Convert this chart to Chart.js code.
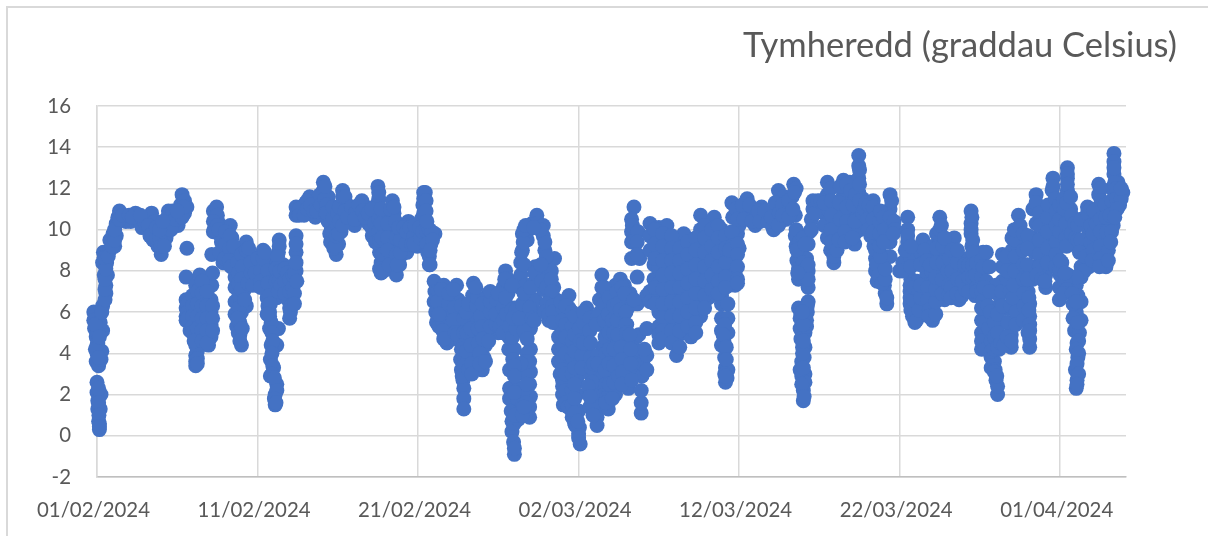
<!DOCTYPE html>
<html>
<head>
<meta charset="utf-8">
<title>Tymheredd</title>
<script src="https://cdn.jsdelivr.net/npm/chart.js@4"></script>
<style>
  html, body { margin: 0; padding: 0; background: #fff; overflow: hidden; }
  #frame { position: absolute; left: 6px; top: 6px; width: 1300px; height: 600px; border: 2px solid #d9d9d9; }
  canvas { position: absolute; left: 0; top: 0; }
</style>
</head>
<body>
<div id="frame"></div>
<canvas id="tempChart" width="1208" height="536"></canvas>
<script>
const titleText = 'Tymheredd (graddau Celsius)';
const dateTicks = [0, 10, 20, 30, 40, 50, 60];
const dateLabels = ['01/02/2024', '11/02/2024', '21/02/2024', '02/03/2024', '12/03/2024', '22/03/2024', '01/04/2024'];

// [days since 01/02/2024, temperature]
const days00to05 = [
    [-0.2,6.0],[-0.2,5.6],[-0.15,5.2],[-0.05,4.8],[0,4.4],[0,4.0],[-0.05,3.6],[0.1,3.4],[0.25,3.7],[0.3,4.1],[0.35,5.1],[0.2,5.5],[0.05,5.0],[0.05,4.5],
    [0,2.6],[0,2.1],[0.05,1.7],[0.25,2.0],[0.05,1.3],[0.2,1.3],[0.1,0.7],[0.15,0.3],[0.15,0.6],
    [0.35,6.3],[0.55,6.9],[0.55,7.3],[0.45,7.8],[0.35,8.4],[0.4,8.9],[0.6,8.4],[0.65,7.8],[0.8,9.0],[1.1,9.2],[0.8,9.5],[1.0,9.8],[1.2,9.7],[1.2,10.3],[1.4,10.9],
    [1.5,10.5],[1.8,10.4],[2.1,10.4],[2.4,10.8],[2.6,10.5],[2.8,10.1],[3.0,10.3],[3.2,10.5],[3.4,10.8],[3.6,10.4],[3.5,10.0],[3.5,9.5],[3.8,9.2],[4.0,8.8],[4.1,9.4],
    [4.3,9.6],[4.2,10.0],[4.4,10.6],[4.45,10.9],[4.7,10.9],[4.7,10.4],[5.05,10.2],[5.1,10.7],[5.2,11.2],[5.3,11.7],[5.45,11.4],[5.6,11.1],[5.45,10.8],[5.6,9.1],[5.55,7.7],
    [-0.1,5.4],[-0.1,4.2],[0.1,3.8],[0.15,4.8],[0.1,2.3],[0.1,1.6],[0.12,1.0],[0.15,0.45],[0.3,6.0],[0.5,6.6],[0.5,7.1],[0.5,7.6],[0.55,8.1],[0.45,8.65],[0.7,8.7],[0.95,9.2],[1.1,9.5],[1.1,10.0],[1.3,10.6],[1.4,10.5],[1.6,10.7],
    [2.0,10.7],[2.2,10.6],[2.7,10.7],[3.2,10.2],[3.3,9.7],[3.7,9.6],[3.7,10.1],[3.9,9.6],[4.0,9.2],[4.2,9.2],[4.4,10.2],[4.6,10.0],[4.9,10.5],[5.3,10.6],[5.4,11.1],[5.0,10.9],[3.9,10.0],[4.1,10.4]
];
const days05to12 = [
    [5.55,6.6],[5.55,6.2],[5.55,5.8],[5.55,5.6],[5.8,6.5],[5.8,6.0],[5.8,5.5],[5.8,5.1],
    [6.15,7.3],[6.15,6.7],[6.15,6.1],[6.15,5.5],[6.15,4.9],[6.15,4.4],[6.15,3.9],[6.15,3.6],[6.15,3.4],
    [6.4,7.8],[6.4,7.2],[6.4,6.6],[6.4,6.0],[6.4,5.4],[6.4,4.8],[6.7,6.8],[6.7,6.2],[6.7,5.6],[6.7,5.0],[6.7,4.6],
    [6.95,7.2],[6.95,6.5],[6.95,5.9],[6.95,5.3],[6.95,4.7],[6.95,4.4],[7.1,6.6],[7.1,6.0],[7.1,5.4],[7.1,4.8],
    [7.15,7.3],[7.2,7.9],[7.15,8.8],[7.25,9.9],[7.25,10.9],[7.45,11.1],[7.6,10.3],[7.5,10.7],
    [7.7,9.7],[7.85,9.1],[7.85,8.4],[8.1,8.9],[8.1,9.5],[8.3,10.2],[8.4,9.6],[8.4,8.9],[8.5,8.3],[8.6,7.7],[8.6,7.2],[8.6,6.5],[8.6,5.9],[8.7,5.3],[8.9,5.5],[9.0,4.4],[8.9,4.9],
    [9.0,6.0],[9.1,6.7],[9.2,7.1],[9.2,7.7],[9.2,8.3],[9.2,8.9],[9.3,9.4],[9.5,8.8],[9.5,8.1],[9.3,6.3],
    [9.75,7.6],[9.95,7.3],[10.0,8.0],[10.2,8.6],[10.35,9.0],[10.5,8.4],[10.5,7.8],[10.5,7.2],[10.65,6.3],[10.6,6.7],[10.75,5.8],[10.75,5.2],[11.3,5.2],[11.2,4.4],[10.85,4.4],
    [10.8,3.7],[10.8,2.9],[11.0,3.3],[11.2,2.5],[11.1,2.0],[11.1,1.5],[10.6,7.5],
    [11.35,9.5],[11.3,8.9],[11.2,8.4],[11.1,7.8],[11.2,7.2],[11.2,6.7],[11.5,7.0],[11.5,7.7],[11.6,8.3],[11.8,7.8],[11.9,7.2],[11.9,6.6],[12.0,6.2],[12.0,5.7],[12.1,6.8],[12.3,7.5],
    [12.4,8.0],[12.4,8.9],[12.4,9.7],[12.4,10.7],[12.4,11.1],
    [5.65,6.4],[5.65,6.0],[5.65,5.7],[5.95,6.8],[5.95,6.3],[5.95,5.8],[5.95,5.3],[5.95,5.0],[6.25,7.0],[6.25,6.4],[6.25,5.8],[6.25,5.2],[6.25,4.6],[6.25,4.1],[6.25,3.75],[6.25,3.5],[6.05,4.6],
    [6.55,7.5],[6.55,6.9],[6.55,6.3],[6.55,5.7],[6.55,5.1],[6.55,4.6],[6.85,7.0],[6.85,6.3],[6.85,5.7],[6.85,5.1],[6.85,4.5],[7.2,6.3],[7.2,5.7],[7.2,5.1],[7.25,10.4],[7.3,10.0],[7.5,10.2],
    [7.6,10.0],[7.75,9.4],[7.65,8.9],[7.95,8.6],[8.0,9.3],[8.0,9.9],[8.3,9.7],[8.25,9.1],[8.25,8.5],[8.5,9.2],[8.35,8.2],[8.75,8.4],[8.8,7.9],[8.8,7.4],[8.85,6.8],[8.85,6.2],[8.75,5.7],[8.8,5.0],[9.05,5.2],[8.9,4.6],
    [9.0,8.8],[9.05,8.2],[9.0,7.6],[9.0,7.1],[9.3,9.0],[9.45,9.1],[9.2,6.6],[9.4,7.4],[9.6,7.9],[9.6,8.4],[9.7,7.3],[9.85,7.9],[10.0,8.6],[10.2,8.0],[10.2,7.5],[10.2,7.2],[10.35,8.6],[10.45,8.9],[10.65,8.0],[10.65,7.4],[10.75,6.8],[10.75,6.0],[10.85,5.5],[10.8,6.4],[10.6,5.9],[10.9,5.0],
    [10.95,4.6],[10.9,4.0],[10.95,3.4],[10.9,3.0],[11.05,2.8],[11.2,2.2],[11.05,1.8],[11.15,1.6],
    [11.35,9.2],[11.25,8.7],[11.15,8.1],[11.15,7.5],[11.3,7.0],[11.35,7.5],[11.4,8.0],[11.45,7.3],[11.7,7.5],[11.7,8.1],[11.7,6.9],[11.85,7.9],[12.0,7.0],[12.0,7.6],[12.1,6.3],[12.05,6.0],[12.2,7.2],[12.2,7.8],[12.3,7.9],[12.3,6.9],[12.4,8.4],[12.4,9.3],[12.45,7.5],[12.3,6.4]
];
const days12to21 = [
    [12.8,10.9],[13.0,11.3],[13.25,11.6],[13.4,11.0],[13.6,10.6],[13.8,11.2],[14.1,12.3],[14.1,11.9],[14.4,11.6],[14.5,11.1],[14.5,10.5],[14.6,10.0],[14.7,9.4],[14.9,8.8],
    [15.05,9.3],[15.2,9.9],[15.3,10.5],[15.3,11.2],[15.3,11.9],[15.6,11.2],[15.8,10.6],[16.05,10.2],[16.3,10.7],[16.5,11.4],[16.75,11.1],[16.9,10.3],
    [17.2,10.6],[17.4,11.2],[17.5,12.1],[17.55,11.5],[17.4,9.9],[17.1,10.1],[17.5,9.4],[17.6,8.9],[17.7,8.4],[17.7,7.9],[17.9,8.4],[17.9,9.2],[17.9,10.0],[17.9,10.7],
    [18.2,10.8],[18.4,11.4],[18.5,10.8],[18.5,10.0],[18.5,9.2],[18.4,8.6],[18.5,8.1],[18.65,7.8],[18.85,8.3],[19.0,8.8],[19.3,8.9],[19.1,9.6],[19.4,10.4],[19.6,9.8],
    [19.95,9.2],[20.0,9.8],[20.2,10.5],[20.35,11.8],[20.3,11.2],[20.4,10.2],[20.45,9.5],[20.6,8.9],[20.7,8.3],[20.8,9.3],[21.05,9.8],
    [12.6,11.0],[12.6,10.7],[12.9,10.7],[13.1,11.4],[13.1,11.0],[13.3,11.2],[13.5,10.9],[13.7,10.9],[13.9,11.7],[13.95,11.2],[14.2,11.5],[14.2,12.1],[14.3,11.2],[14.25,10.8],[14.4,10.4],[14.3,10.8],[14.5,9.8],[14.55,9.4],[14.7,9.9],[14.75,9.1],[14.85,9.2],[14.9,9.7],[14.9,10.3],[14.7,10.6],[14.7,11.1],
    [15.0,10.8],[15.1,10.4],[15.1,11.1],[15.05,9.8],[15.3,11.6],[15.45,11.6],[15.45,10.9],[15.3,10.2],[15.6,10.6],[15.85,11.1],[16.1,10.8],[16.05,10.5],[16.3,11.2],[16.55,10.9],[16.7,10.6],[16.9,10.8],[17.1,11.0],
    [17.3,10.3],[17.15,9.7],[17.35,9.4],[17.55,9.9],[17.55,11.8],[17.55,10.5],[17.7,11.0],[17.7,10.3],[17.6,9.5],[17.6,8.1],[17.85,8.0],[17.8,8.8],[17.75,9.6],[18.1,10.3],[18.1,9.6],[18.1,9.0],[18.2,8.3],[18.3,11.0],[18.5,11.1],[18.6,10.4],[18.65,9.6],[18.65,8.8],[18.7,8.3],
    [18.9,8.9],[18.9,9.5],[18.8,10.1],[19.1,10.1],[19.25,9.3],[19.3,9.9],[19.5,10.1],[19.6,9.3],[19.75,9.7],[19.8,10.2],[19.75,9.3],[20.15,9.6],[20.1,10.1],[20.3,9.9],[20.35,11.5],[20.35,10.8],[20.55,9.9],[20.55,9.3],[20.7,8.7],[20.7,10.0],[20.85,9.9],[20.9,9.5]
];
const days20to26 = [
    [20.45,11.8],[20.5,11.4],[20.5,10.9],[20.55,10.4],[20.75,9.0],[20.75,8.3],[21.0,7.5],[21.05,7.0],[21.0,6.5],[21.1,6.0],[21.15,5.5],[21.3,5.3],[21.5,5.6],[21.5,6.3],[21.6,7.3],
    [21.7,6.7],[21.8,5.8],[21.8,5.1],[21.8,4.5],[22.1,4.7],[22.1,5.4],[22.1,6.1],[22.3,6.7],[22.4,7.3],[22.5,6.6],[22.6,5.9],[22.5,5.2],[22.65,4.6],[22.65,3.7],[22.7,3.2],
    [22.8,2.7],[22.85,2.3],[22.85,1.8],[22.85,1.3],[23.0,3.0],[23.1,3.6],[23.1,4.5],[23.15,5.4],[23.3,6.2],[23.45,7.4],[23.4,6.8],[23.5,5.6],[23.5,4.8],[23.6,3.9],[23.6,3.3],
    [24.0,3.2],[24.1,3.8],[24.2,4.4],[24.25,5.0],[24.2,5.7],[24.4,6.9],[24.3,6.3],[24.7,6.8],[24.7,6.1],[24.7,5.5],[25.0,5.0],[25.0,5.6],[25.0,6.2],[25.2,6.8],[25.3,7.2],[25.45,8.0],
    [25.6,7.6],[25.6,6.9],[25.6,6.2],[25.5,5.4],[25.65,4.2],[25.65,4.8],
    [21.25,7.0],[21.2,6.5],[21.3,5.9],[21.45,7.1],[21.55,5.1],[21.6,4.7],[21.9,6.4],[21.9,6.9],[22.2,7.1],[22.25,6.2],[22.2,5.6],[22.3,5.0],[22.45,4.9],[22.7,6.3],[22.85,5.7],[22.85,5.0],[22.85,4.4],[22.85,3.9],[22.85,3.4],[22.7,4.2],[22.75,2.9],
    [23.0,6.0],[23.05,5.0],[23.0,4.1],[23.15,3.2],[23.15,6.4],[23.3,5.2],[23.3,4.4],[23.35,3.5],[23.35,3.0],[23.65,6.3],[23.7,6.7],[23.6,7.2],[23.75,5.2],[23.75,4.5],[23.85,4.0],[23.85,3.5],[23.9,5.8],
    [24.0,6.4],[24.0,5.3],[24.05,4.7],[24.2,3.6],[24.4,4.6],[24.5,5.3],[24.5,6.0],[24.5,6.5],[24.5,7.0],[24.9,6.6],[24.85,5.4],[24.85,5.9],[25.0,6.9],[25.1,5.3],[25.3,6.2],[25.3,5.6],[25.3,5.0],[25.45,6.7],[25.4,7.6],[25.5,5.9],[25.7,5.3]
];
const days25to34 = [
    [25.7,3.2],[25.7,2.3],[25.7,1.8],[25.8,1.2],[25.85,0.7],[25.85,0.2],[25.95,-0.3],[26.0,-0.9],[26.0,-0.6],[26.0,0.6],[26.2,1.3],[26.2,1.8],[26.3,2.3],[26.2,3.2],[26.3,5.3],[26.2,6.0],
    [26.35,7.2],[26.0,6.2],[26.4,8.4],[26.5,9.0],[26.5,9.8],[26.4,7.8],[26.7,6.0],[26.8,5.4],[27.0,5.2],[27.0,4.2],[27.0,3.1],[26.95,3.6],[26.95,2.5],[27.0,1.9],[26.95,1.4],[26.95,0.9],
    [26.5,1.5],[26.6,2.2],[26.6,3.0],[26.6,5.5],[26.7,7.3],[26.9,6.6],[27.2,6.1],[27.3,6.6],[27.2,7.4],[27.3,8.2],[26.8,9.5],[26.9,10.0],[27.1,10.3],[27.4,10.7],[27.4,10.3],
    [27.8,10.2],[27.8,9.7],[27.9,9.0],[27.9,8.4],[27.95,7.8],[28.1,8.1],[28.5,8.6],[28.3,8.0],[28.45,7.2],[28.2,6.6],[28.1,6.1],[28.15,5.6],[27.8,7.1],
    [28.6,6.6],[28.7,6.0],[28.75,5.4],[28.75,4.8],[28.75,4.2],[28.75,3.6],[28.85,3.0],[29.0,2.4],[29.05,1.5],[29.0,2.0],[29.1,5.6],[29.4,6.8],[29.4,6.2],[29.5,5.6],[29.5,5.0],[29.4,4.2],[29.3,3.4],[29.3,2.6],
    [29.4,1.9],[29.5,1.3],[29.7,0.9],[29.8,0.5],[30.0,0.1],[30.1,-0.4],[30.05,0.4],[30.0,1.2],[29.9,2.0],[29.9,2.8],[29.9,3.6],[29.9,4.4],[29.85,5.2],[30.0,5.8],
    [30.5,6.2],[30.5,5.6],[30.55,5.0],[30.5,4.3],[30.6,3.6],[30.7,3.0],[30.7,2.3],[30.7,1.4],
    [31.45,7.8],[31.45,7.2],[31.4,6.6],[31.35,6.0],[31.4,5.4],[31.5,4.3],[31.4,3.6],[31.2,3.0],[31.1,2.4],[31.1,1.9],[31.15,1.3],[31.15,0.9],[31.15,0.5],[31.6,2.0],[31.85,1.3],
    [31.9,2.0],[31.9,3.0],[32.0,3.8],[32.1,4.5],[31.9,5.5],[32.0,6.2],[32.1,6.9],[32.3,7.3],[32.6,7.6],[32.85,7.3],[32.8,6.4],[32.7,5.6],[32.7,4.8],[32.4,4.2],[32.5,3.3],[32.4,2.6],[32.3,2.0],
    [33.2,6.9],[33.05,6.2],[33.0,5.4],[33.0,4.6],[33.0,3.8],[33.0,3.0],[33.1,2.3],[33.5,3.0],[33.6,3.6],[33.5,4.2],[33.6,4.8],[33.9,1.1],[33.9,1.6],[33.9,2.2],[33.95,2.9],[34.0,3.5],[34.25,3.9],[34.25,3.2],[34.1,4.2],
    [33.65,7.7],[33.65,6.4],[34.25,6.8],[33.75,4.9],[34.25,5.2],
    [33.45,11.1],[33.3,10.5],[33.3,9.9],[33.3,9.4],[33.35,10.2],[33.7,9.9],[33.65,9.4],[33.3,8.6],[33.8,8.6],[33.65,8.8],
    [26.0,4.2],[25.9,3.7],[25.9,4.8],[26.1,5.2],[26.6,5.1],[26.8,4.7],[26.8,4.0],[26.7,3.6],[26.4,3.5],[26.0,3.4],[26.0,2.9],[26.75,2.5],[26.0,2.1],[26.75,1.6],[26.25,0.8],[26.2,1.0],[26.05,1.0],[26.7,1.0],[26.5,1.0],[26.6,1.4],
    [25.85,7.3],[25.85,6.1],[26.1,6.1],[25.9,5.7],[26.3,5.7],[26.5,6.4],[26.6,6.9],[26.95,6.2],[27.1,5.7],[27.25,5.6],[27.0,7.2],[26.45,8.9],[26.55,9.4],[26.6,10.0],[26.7,10.2],[26.6,8.3],[27.25,7.9],
    [27.9,9.4],[28.0,8.7],[27.65,8.3],[27.6,10.0],[27.2,10.1],[27.7,7.5],[28.0,7.2],[28.3,7.6],[28.35,7.0],[28.0,6.4],[27.9,6.0],[28.15,5.9],[28.4,6.3],[28.4,6.0],[28.4,5.5],
    [29.0,6.2],[29.0,5.6],[29.0,5.0],[29.0,4.4],[29.0,3.8],[29.0,3.2],[29.0,2.7],[28.9,6.5],[29.2,6.3],[29.2,5.4],[29.2,4.8],[29.2,4.0],[29.2,3.0],[29.2,2.2],[29.2,1.6],[29.35,1.4],
    [29.6,6.0],[29.6,5.3],[29.6,4.6],[29.6,3.8],[29.6,3.0],[29.6,2.2],[29.6,1.5],[29.6,0.9],[29.75,5.8],[29.75,4.9],[29.75,4.1],[29.75,3.3],[29.75,2.5],[29.75,1.8],[29.75,1.1],[29.75,0.6],[29.95,0.7],[30.0,-0.1],
    [30.05,5.2],[30.1,4.6],[30.2,3.9],[30.2,3.3],[30.3,4.5],[30.3,5.5],[30.3,6.0],[30.7,5.7],[30.7,5.1],[30.75,4.5],[30.75,3.8],[30.8,3.3],[30.85,2.6],[30.85,2.0],[30.85,1.5],[30.6,2.4],[30.7,1.9],[30.9,1.0],
    [31.2,5.8],[31.1,5.4],[31.3,6.6],[31.2,3.9],[30.95,3.5],[31.2,3.5],
    [31.6,7.2],[31.6,6.4],[31.6,5.6],[31.65,4.8],[31.7,4.0],[31.65,3.2],[31.7,2.5],[31.7,1.6],[31.9,6.7],[31.85,5.9],[31.9,5.0],[31.9,4.2],[31.9,3.5],[31.9,2.5],[32.1,5.6],[32.2,6.3],[32.2,5.0],[32.2,4.2],[32.2,3.4],[32.2,2.6],[32.1,1.8],
    [32.4,7.0],[32.45,6.4],[32.4,5.6],[32.45,4.9],[32.5,2.9],[32.7,7.2],[32.85,6.9],[32.6,6.1],[32.65,4.3],[32.7,3.7],[32.75,3.1],[32.7,2.5],[32.95,6.0],[32.95,5.4],[33.0,5.0],[33.2,4.9],[33.25,4.2],[33.25,3.5],[33.3,2.7],[33.45,6.6]
];
const days34to44 = [
    [34.45,10.3],[34.45,9.7],[34.45,9.0],[34.7,8.3],[34.7,7.6],[34.45,7.0],[34.45,6.5],
    [35.0,10.1],[35.0,9.5],[35.0,8.8],[35.0,8.1],[35.0,7.4],[35.0,6.7],[35.0,6.0],[35.0,5.3],[35.0,4.5],[35.0,4.9],
    [35.5,10.2],[35.5,9.6],[35.5,8.9],[35.5,8.2],[35.5,7.5],[35.5,6.8],[35.5,6.1],[35.5,5.4],[35.5,4.9],
    [36.1,9.4],[36.1,8.8],[36.1,8.2],[36.1,7.5],[36.1,6.8],[36.1,6.1],[36.1,5.4],[36.1,4.7],[36.1,3.9],[36.1,4.4],
    [36.55,9.8],[36.55,9.2],[36.55,8.5],[36.55,7.8],[36.55,7.1],[36.55,6.4],[36.55,5.7],[36.55,5.0],
    [37.0,9.0],[37.0,8.4],[37.0,7.7],[37.0,7.0],[37.0,6.3],[37.0,5.6],[37.0,4.8],[37.0,5.2],
    [37.6,10.7],[37.6,10.0],[37.6,9.3],[37.6,8.6],[37.6,7.9],[37.6,7.2],[37.6,6.5],[37.6,5.8],
    [38.1,10.2],[38.1,9.5],[38.1,8.8],[38.1,8.1],[38.1,7.4],[38.1,6.7],[38.45,10.6],[38.45,10.0],[38.45,9.3],[38.45,8.6],[38.45,7.9],[38.45,7.2],
    [38.9,10.0],[38.9,9.3],[38.9,8.6],[38.9,7.9],[38.9,7.2],[38.9,6.8],[38.9,6.4],[38.9,5.7],[38.9,5.1],[38.9,4.4],
    [39.1,3.8],[39.05,4.6],[39.3,5.0],[39.3,5.7],[39.3,6.4],[39.15,3.3],[39.15,2.6],[39.3,3.2],
    [39.4,8.5],[39.4,7.8],[39.4,7.3],[39.75,9.3],[39.75,8.6],[39.75,7.9],[39.75,7.3],[40.0,9.1],[39.9,9.8],
    [39.55,11.3],[39.6,10.6],[40.0,10.2],[40.2,10.9],[40.5,11.5],[40.4,11.0],[40.7,10.7],[41.0,10.2],[41.1,10.6],[41.4,11.1],[41.6,10.5],[42.1,10.1],[42.2,10.7],[42.45,11.9],[42.45,11.3],
    [42.15,10.0],[42.6,10.4],[42.9,10.5],[43.0,11.0],[43.4,12.2],[43.3,11.6],[43.5,10.7],[43.2,10.8],[42.8,11.6],
    [43.5,9.7],[43.55,9.2],[43.6,8.5],[43.7,8.1],[43.7,7.6],[43.9,9.0],[44.3,8.0],[44.2,8.6],[44.3,9.3],[44.4,9.9],[44.5,10.5],[44.6,11.4],[44.3,7.2],[44.3,6.5],[43.7,6.2],[44.25,6.0],[44.2,5.6],
    [43.8,5.2],[44.1,5.0],[43.85,4.7],[44.1,4.3],[43.9,3.6],[44.05,3.8],[43.9,2.9],[44.1,3.0],[44.0,2.2],[44.0,1.7],[44.1,2.6],
    [34.75,10.0],[34.75,9.3],[34.75,8.6],[34.75,7.2],[34.75,6.4],[35.25,9.8],[35.25,9.2],[35.25,8.5],[35.25,7.8],[35.25,7.1],[35.25,6.4],[35.25,5.7],[35.25,5.1],[35.25,4.7],
    [35.8,9.7],[35.8,9.1],[35.8,8.5],[35.8,7.9],[35.8,7.2],[35.8,6.5],[35.8,5.8],[35.8,5.1],[35.8,4.5],[36.3,9.1],[36.3,8.5],[36.3,7.9],[36.3,7.2],[36.3,6.5],[36.3,5.8],[36.3,5.1],[36.3,4.3],
    [36.8,9.4],[36.8,8.8],[36.8,8.1],[36.8,7.4],[36.8,6.7],[36.8,6.0],[36.8,5.3],[37.3,9.6],[37.3,9.0],[37.3,8.3],[37.3,7.6],[37.3,6.9],[37.3,6.2],[37.3,5.5],[37.3,5.0],
    [37.85,10.2],[37.85,9.6],[37.85,8.9],[37.85,8.2],[37.85,7.5],[37.85,6.8],[37.85,6.2],[38.3,10.0],[38.3,9.2],[38.3,8.5],[38.3,7.8],[38.3,7.1],
    [38.7,10.2],[38.7,9.6],[38.7,8.9],[38.7,8.2],[38.7,7.5],[38.7,6.9],[39.15,9.7],[39.15,9.1],[39.15,8.4],[39.15,7.7],[39.15,7.2],[39.55,9.9],[39.55,9.2],[39.4,9.0],[39.9,9.3],[39.9,8.8],[39.9,8.2],[39.9,7.6],[39.9,7.4],
    [39.1,5.4],[39.0,4.9],[39.2,4.3],[39.2,3.7],[39.1,3.0],[39.25,2.8],[39.15,2.9],
    [39.8,11.0],[39.9,10.5],[40.2,11.2],[40.3,10.5],[40.65,11.2],[40.8,10.4],[41.2,10.9],[41.3,10.4],[41.6,10.9],[41.8,10.4],[42.0,10.6],[42.25,11.3],[42.5,10.8],[42.45,10.2],[42.7,11.2],[42.7,10.7],[43.1,10.6],[43.1,11.4],[43.35,11.0],[43.55,12.0],[43.45,11.8],
    [43.55,10.0],[43.75,9.4],[43.6,9.0],[44.0,9.6],[44.0,8.4],[44.0,8.0],[44.3,7.6],[44.3,8.3],[44.1,9.3],[44.5,10.0],[44.6,11.0],[43.65,7.9],
    [43.95,4.3],[43.8,3.2],[44.0,3.3],[43.9,2.5],[44.05,1.9],[43.95,4.0],[44.0,4.6],[44.25,6.3],[43.8,5.7],[43.85,5.9],[44.2,5.3],[44.0,5.4],[43.95,6.0]
];
const days45to55 = [
    [45.0,11.0],[45.3,10.8],[45.5,12.3],[45.5,11.7],[45.5,11.0],[45.5,10.3],[45.5,9.6],[45.7,9.0],[45.9,8.4],[45.9,9.0],[46.0,9.6],[46.1,10.3],[46.0,11.1],[46.5,12.4],[46.5,11.7],[46.5,11.0],[46.5,10.3],
    [46.9,12.3],[46.8,11.5],[46.9,10.7],[47.0,10.0],[47.2,9.3],[47.2,9.8],[47.45,13.6],[47.45,13.1],[47.45,12.5],[47.45,11.8],[47.45,11.1],[47.45,10.5],[47.5,10.0],[47.7,11.5],[48.0,10.9],
    [48.35,11.4],[48.35,10.8],[48.35,10.2],[48.2,9.7],[48.4,9.2],[48.5,8.6],[48.5,8.0],[48.6,7.5],[49.05,7.3],[48.85,7.9],[49.2,6.4],[49.1,6.9],[48.7,8.3],[49.4,11.7],[49.4,11.0],[49.3,10.3],[49.4,9.7],[49.4,9.4],[49.1,8.7],[49.4,8.7],
    [50.5,10.6],[50.5,10.0],[50.5,9.4],[50.5,8.8],[50.0,8.0],[50.2,8.4],[50.4,8.0],[50.7,8.6],[50.7,7.6],[50.65,7.0],[50.65,6.4],[50.8,5.8],[50.95,5.5],[51.2,5.8],[51.2,6.4],[51.0,7.0],[51.1,7.5],
    [51.45,9.5],[51.3,8.9],[51.5,8.4],[51.7,7.9],[51.6,7.3],[51.6,6.6],[52.05,5.6],[52.05,6.1],[52.0,6.7],[52.0,7.4],[52.0,8.0],[52.0,8.6],[52.1,9.2],[52.3,9.8],[52.5,10.6],[52.5,10.0],[52.5,9.3],[52.5,8.6],[52.5,7.9],[52.5,7.2],
    [52.8,6.6],[52.8,7.2],[52.8,8.0],[52.9,8.7],[53.1,9.3],[53.4,9.6],[53.4,9.0],[53.4,8.3],[53.4,7.6],[53.4,7.0],[53.7,6.6],[53.7,7.2],[53.8,8.0],[53.9,8.6],[54.1,7.9],[54.2,7.2],
    [54.45,10.9],[54.45,10.3],[54.45,9.8],[54.5,9.2],[54.6,8.6],[54.5,8.0],[54.6,7.4],[54.7,6.8],[55.0,7.4],[55.0,8.1],[55.2,8.9],
    [44.7,10.8],[44.9,11.4],[45.1,11.4],[45.3,11.3],[45.3,10.2],[45.7,12.0],[45.75,11.4],[45.75,10.7],[45.75,10.0],[45.75,9.4],[45.9,8.7],[46.1,9.0],[46.2,9.5],[46.3,10.5],[46.25,11.3],[46.3,12.1],[46.7,12.2],[46.7,11.1],[46.7,10.4],[46.6,9.9],[46.6,9.4],
    [46.95,11.9],[47.1,11.2],[47.2,10.4],[47.05,9.6],[47.25,11.7],[47.5,12.9],[47.5,12.2],[47.5,11.4],[47.7,10.8],[47.8,11.0],[47.9,11.3],[48.1,11.2],[48.0,10.5],[48.05,10.0],[48.35,11.1],[48.35,10.5],[48.35,9.9],[48.5,9.0],[48.55,8.3],[48.7,7.8],[48.9,7.4],[49.1,7.6],[49.2,6.7],[49.1,8.1],
    [48.8,8.7],[48.75,9.2],[48.75,9.8],[48.75,10.4],[48.8,10.9],[49.0,10.6],[49.05,10.0],[49.0,9.4],[49.5,11.4],[49.4,10.6],[49.65,10.4],[49.7,10.0],[49.6,9.8],[50.2,8.0],[50.5,9.7],[50.35,9.0],[50.7,9.2],[50.7,8.2],[50.65,7.3],[50.65,6.7],[50.7,6.1],
    [50.9,5.9],[50.85,6.6],[50.9,7.2],[51.05,5.6],[51.2,6.1],[51.2,7.0],[51.3,6.7],[51.3,7.3],[51.3,8.3],[51.55,9.0],[51.7,8.5],[51.9,8.3],[51.75,7.2],[51.75,6.6],[51.85,6.1],[51.8,5.8],[52.25,5.9],[52.25,6.5],[52.25,7.1],[52.25,7.7],[52.3,8.4],[52.3,9.1],
    [52.65,6.9],[52.65,7.6],[52.7,8.4],[52.7,9.2],[52.6,10.2],[52.8,9.6],[53.0,8.0],[53.05,7.3],[53.05,6.8],[53.1,8.6],[53.25,9.0],[53.25,8.0],[53.2,7.2],[53.2,6.7],[53.55,6.9],[53.6,7.6],[53.6,8.4],[53.6,9.0],[53.9,6.8],[53.9,7.5],[54.05,8.3],[54.1,7.1],[54.3,7.7],[54.3,8.3],[54.3,7.0],
    [54.5,10.6],[54.45,10.0],[54.55,9.5],[54.55,8.9],[54.55,8.3],[54.55,7.7],[54.8,7.2],[54.75,7.8],[54.8,8.4],[54.8,7.0],[55.1,7.7],[55.1,8.5],[55.1,7.0]
];
const days55to64 = [
    [55.4,8.9],[55.4,8.2],[55.4,7.5],[55.4,6.8],[55.3,6.1],[55.1,5.6],[55.1,5.0],[55.1,4.2],[55.4,5.0],[55.5,4.4],[55.5,5.8],[55.7,3.3],[55.7,3.8],[55.9,3.6],[56.0,2.7],[56.1,2.0],[56.1,2.4],
    [56.4,8.8],[56.4,8.2],[56.4,7.5],[56.0,6.2],[56.2,6.8],[56.0,7.3],[56.3,5.5],[56.2,4.8],[56.2,4.2],[56.5,4.8],[56.6,5.5],[56.7,6.2],[56.8,7.0],[56.95,4.3],[56.95,4.9],[56.9,5.5],[56.9,7.6],
    [57.0,8.2],[57.0,9.0],[57.0,9.6],[57.4,10.7],[57.4,10.0],[57.3,9.3],[57.4,8.6],[57.5,7.9],[57.5,7.2],[57.5,6.5],[57.5,5.8],[58.0,7.0],[58.1,6.4],[58.1,5.8],[58.0,5.0],[58.1,4.3],[58.1,4.7],
    [58.5,11.7],[58.3,11.0],[58.5,10.3],[58.3,9.6],[58.4,8.9],[58.3,8.2],[58.3,7.6],[59.1,7.2],[59.1,7.8],[59.0,8.3],[59.0,9.0],[59.0,9.7],[59.0,10.3],[58.9,11.0],
    [59.55,12.5],[59.5,11.9],[59.5,11.2],[59.5,10.5],[59.5,9.8],[59.4,9.0],[59.5,8.4],[59.95,6.6],[59.95,7.2],[60.0,7.8],[60.1,8.4],[60.45,13.0],[60.45,12.5],[60.45,11.9],[60.1,10.0],[60.1,10.7],[60.2,9.3],
    [60.65,11.0],[60.65,10.3],[60.6,9.6],[60.8,9.3],[60.5,7.8],[60.7,7.3],[61.3,7.7],[61.0,7.3],[61.3,6.5],[61.1,6.8],[61.3,5.6],[61.0,6.0],[60.9,5.1],[61.2,5.0],[61.05,4.5],[61.1,3.8],[60.95,3.2],[61.05,2.7],[61.0,2.3],
    [61.3,8.2],[61.7,11.1],[61.5,10.5],[61.8,9.8],[61.5,9.2],[61.8,8.7],[61.8,8.2],[62.0,10.5],[62.2,9.7],[62.2,9.0],[62.3,8.3],[62.4,12.2],[62.4,11.7],[62.4,11.0],[62.7,10.5],[62.7,9.7],[62.8,9.0],[62.85,8.2],[62.7,8.6],
    [63.0,9.5],[63.0,10.3],[63.0,11.0],[63.2,12.0],[63.35,13.7],[63.35,13.3],[63.35,12.7],[63.6,12.3],[63.6,11.7],[63.9,11.8],[63.7,11.2],[63.3,11.0],[63.3,10.2],
    [55.2,6.6],[55.25,7.2],[55.2,8.2],[55.1,6.2],[55.25,5.5],[55.3,4.9],[55.25,4.5],[55.1,4.6],[55.35,4.2],[55.5,6.3],[55.55,5.2],[55.6,7.0],[55.6,8.2],[55.65,6.0],[55.7,4.6],[55.7,4.1],[55.95,3.2],[55.9,3.1],[56.05,2.9],[55.85,4.2],[55.9,4.8],[55.9,5.5],
    [56.1,5.9],[56.1,5.0],[56.1,4.3],[56.4,6.3],[56.35,7.0],[56.3,4.5],[56.5,4.4],[56.7,4.8],[56.75,5.5],[56.9,6.3],[56.95,4.6],[56.7,7.6],[56.7,8.0],[56.65,8.7],[56.9,7.0],[57.05,6.7],[57.1,7.3],[57.15,8.0],[57.2,8.7],[57.2,9.5],[57.15,10.0],[57.25,6.0],[57.25,5.4],
    [57.5,10.2],[57.7,9.8],[57.7,9.0],[57.7,8.3],[57.7,7.6],[57.75,6.9],[57.75,6.3],[57.7,5.6],[58.0,9.7],[57.95,9.1],[57.95,8.3],[57.95,7.6],[58.05,6.7],[58.05,6.1],[58.1,5.4],[58.1,5.1],
    [58.5,11.3],[58.7,10.8],[58.7,10.2],[58.7,9.5],[58.7,8.8],[58.7,8.2],[58.55,7.8],[58.85,7.6],[59.05,7.5],[59.2,8.4],[59.2,9.1],[59.2,9.9],[59.2,10.6],[59.25,11.2],[59.55,12.1],[59.7,11.5],[59.75,10.9],[59.75,10.2],[59.75,9.4],[59.75,8.8],[59.7,8.2],
    [59.95,8.1],[60.0,8.5],[59.95,9.9],[59.95,10.5],[59.95,11.2],[60.2,11.5],[60.25,11.0],[60.35,10.3],[60.35,9.6],[60.4,9.2],[60.45,12.7],[60.45,12.2],[60.4,11.3],[60.65,11.6],[60.7,10.7],[60.7,9.8],[60.9,10.3],[60.95,9.6],[61.1,10.2],[61.3,10.5],[61.1,9.5],[61.3,9.5],[61.2,8.9],[61.55,8.7],[61.5,8.0],
    [61.0,7.7],[60.3,7.5],[60.4,7.1],[60.2,6.9],[60.3,7.9],[60.75,6.9],[60.8,6.4],[60.8,5.7],[61.0,6.5],[61.1,5.5],[61.15,4.6],[61.0,4.2],[61.15,4.0],[61.05,3.5],[61.15,3.0],[61.05,2.5],
    [61.7,10.8],[61.9,11.0],[61.9,10.2],[61.9,9.4],[62.05,9.8],[62.05,9.0],[62.0,8.5],[62.1,10.9],[62.25,10.3],[62.5,12.0],[62.55,11.4],[62.5,10.5],[62.5,9.9],[62.5,9.2],[62.5,8.6],[62.45,8.2],[62.8,11.2],[62.85,10.6],[62.9,9.9],[63.0,9.0],[63.0,8.5],
    [63.1,10.7],[63.2,11.4],[63.2,9.9],[63.4,12.3],[63.35,13.0],[63.5,12.0],[63.5,11.5],[63.8,11.5],[63.8,12.0],[63.55,11.0],[63.4,10.6],[63.15,9.4]
];

const readings = [].concat(days00to05, days05to12, days12to21, days20to26, days25to34, days34to44, days45to55, days55to64);

// title sits further right than the plot area, so stretch its box past the padding
const titleRight = {
    id: 'titleRight',
    afterLayout(chart) {
        chart.titleBlock.right = 1177;
    }
};

new Chart(document.getElementById('tempChart').getContext('2d'), {
    type: 'scatter',
    data: {
        datasets: [{
            data: readings.map(r => ({ x: r[0], y: r[1] })),
            backgroundColor: '#4472c4',
            borderWidth: 0,
            pointRadius: 7.5,
            pointHoverRadius: 7.5,
            clip: false
        }]
    },
    plugins: [titleRight],
    options: {
        responsive: false,
        animation: false,
        layout: { padding: { right: 82 } },
        plugins: {
            legend: { display: false },
            tooltip: { enabled: false },
            title: {
                display: true,
                text: titleText,
                align: 'end',
                color: '#595959',
                font: { family: 'Lato', size: 34.5, weight: 'normal', lineHeight: 1.2 },
                padding: { top: 25.3, bottom: 39.3 }
            }
        },
        scales: {
            x: {
                type: 'linear',
                min: 0,
                max: 64.1,
                afterBuildTicks(scale) {
                    scale.ticks = dateTicks.map(v => ({ value: v }));
                },
                afterFit(scale) {
                    scale.height = 59;
                },
                grid: { color: '#d9d9d9', lineWidth: 1.5, drawTicks: false },
                border: { color: '#bfbfbf', width: 1.5 },
                ticks: {
                    color: '#595959',
                    font: { family: 'Lato', size: 20.4 },
                    padding: 21,
                    labelOffset: -3.5,
                    maxRotation: 0,
                    autoSkip: false,
                    callback: (v) => dateLabels[dateTicks.indexOf(v)]
                }
            },
            y: {
                min: -2,
                max: 16,
                afterFit(scale) {
                    scale.width = 97;
                },
                grid: { color: '#d9d9d9', lineWidth: 1.5, drawTicks: false },
                border: { color: '#d9d9d9', width: 1.5 },
                ticks: {
                    stepSize: 2,
                    color: '#595959',
                    font: { family: 'Lato', size: 20.4 },
                    padding: 26
                }
            }
        }
    }
});
</script>
</body>
</html>
